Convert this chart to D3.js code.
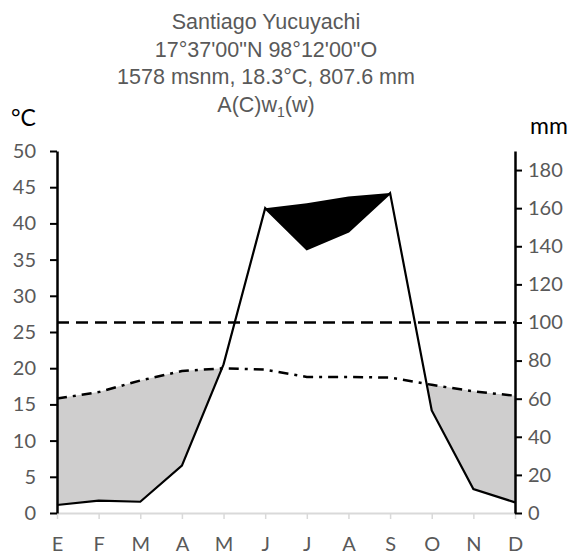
<!DOCTYPE html>
<html>
<head>
<meta charset="utf-8">
<script src="https://cdn.jsdelivr.net/npm/d3@7"></script>
<style>
  html, body { margin: 0; padding: 0; background: #fff; }
  svg { display: block; }
  .title text { font-family: "Liberation Sans", Arial, sans-serif; font-size: 21.5px; fill: #595959; }
  .unit { font-family: Lato, "Open Sans", sans-serif; font-size: 23px; fill: #000; }
  .tick text { font-family: Lato, "Open Sans", sans-serif; font-size: 20px; fill: #595959; }
</style>
</head>
<body>
<div id="chart"></div>
<script>
// climate data
const months = ['E', 'F', 'M', 'A', 'M', 'J', 'J', 'A', 'S', 'O', 'N', 'D'];
const temp = [15.8, 16.7, 18.3, 19.6, 20.0, 19.8, 18.8, 18.8, 18.7, 17.7, 16.8, 16.2];
const precip = [4.2, 6.5, 5.9, 24.9, 78, 160, 138.4, 147.7, 167.9, 53.8, 12.6, 5.6];
// top edge of the black (humid) block, June..September only
const humidTop = [null, null, null, null, null, 160, 162.6, 166.1, 167.9, null, null, null];
const tempTicks = [0, 5, 10, 15, 20, 25, 30, 35, 40, 45, 50];
const precipTicks = [0, 20, 40, 60, 80, 100, 120, 140, 160, 180];
const refLine = 100;
const titleLines = ['Santiago Yucuyachi', '17°37\'00"N 98°12\'00"O', '1578 msnm, 18.3°C, 807.6 mm'];

const W = 576, H = 552;
const m = {top: 151, right: 61, bottom: 39, left: 57};

const svg = d3.select('#chart').append('svg')
    .attr('width', W).attr('height', H);

const x = d3.scalePoint().domain(d3.range(12)).range([m.left, W - m.right]);
const yT = d3.scaleLinear().domain([0, 50]).range([H - m.bottom, m.top]);
const yP = d3.scaleLinear().domain([0, 190]).range([H - m.bottom, m.top]);

// title
const title = svg.append('g').attr('class', 'title');
titleLines.forEach(function (t, i) {
    title.append('text').attr('x', 266).attr('y', 29 + i * 27.7)
        .attr('text-anchor', 'middle').text(t);
});
const kl = title.append('text').attr('x', 266).attr('y', 112).attr('text-anchor', 'middle');
kl.append('tspan').text('A(C)w');
kl.append('tspan').attr('dy', 5).attr('font-size', 14).text('1');
kl.append('tspan').attr('dy', -5).text('(w)');

svg.append('text').attr('class', 'unit').attr('x', 11).attr('y', 126).text('°C');
svg.append('text').attr('class', 'unit').attr('x', 530).attr('y', 134).text('mm');

// gray dry area: below the temperature curve and above the rain curve
const defs = svg.append('defs');
defs.append('clipPath').attr('id', 'belowTemp')
    .append('path')
    .attr('d', d3.area().x((d, i) => x(i)).y0(H - m.bottom).y1(d => yT(d))(temp));

svg.append('path')
    .attr('clip-path', 'url(#belowTemp)')
    .attr('fill', '#cfcece')
    .attr('d', d3.area().x((d, i) => x(i)).y0(d => yP(d)).y1(m.top - 10)(precip));

// black humid block
svg.append('path')
    .attr('fill', '#000')
    .attr('d', d3.area()
        .defined(d => d[1] != null)
        .x(d => x(d[0]))
        .y0(d => yP(precip[d[0]]))
        .y1(d => yP(d[1]))(humidTop.map((v, i) => [i, v])));

// 100 mm reference
svg.append('line')
    .attr('x1', m.left).attr('x2', W - m.right)
    .attr('y1', yP(refLine)).attr('y2', yP(refLine))
    .attr('stroke', '#000').attr('stroke-width', 2.5)
    .attr('stroke-dasharray', '12,7');

// temperature
svg.append('path')
    .attr('fill', 'none').attr('stroke', '#000').attr('stroke-width', 2.5)
    .attr('stroke-dasharray', '10,6,3,6')
    .attr('d', d3.line().x((d, i) => x(i)).y(d => yT(d))(temp));

// precipitation
svg.append('path')
    .attr('fill', 'none').attr('stroke', '#000').attr('stroke-width', 2.2)
    .attr('d', d3.line().x((d, i) => x(i)).y(d => yP(d))(precip));

// axes
const xAxis = svg.append('g')
    .attr('transform', 'translate(0,' + (H - m.bottom) + ')')
    .call(d3.axisBottom(x).tickFormat(i => months[i]).tickSize(6).tickSizeOuter(0).tickPadding(18));
xAxis.select('.domain').attr('stroke', '#d9d9d9').attr('stroke-width', 2);
xAxis.selectAll('.tick line').attr('stroke', '#d9d9d9').attr('stroke-width', 1.5);

const yAxisL = svg.append('g')
    .attr('transform', 'translate(' + m.left + ',0)')
    .call(d3.axisLeft(yT).tickValues(tempTicks).tickSize(7).tickSizeOuter(0).tickPadding(14));
const yAxisR = svg.append('g')
    .attr('transform', 'translate(' + (W - m.right) + ',0)')
    .call(d3.axisRight(yP).tickValues(precipTicks).tickSize(7).tickSizeOuter(0).tickPadding(6));
[yAxisL, yAxisR].forEach(function (a) {
    a.select('.domain').attr('stroke', '#000').attr('stroke-width', 2.5);
    a.selectAll('.tick line').attr('stroke', '#000').attr('stroke-width', 2);
});
</script>
</body>
</html>
